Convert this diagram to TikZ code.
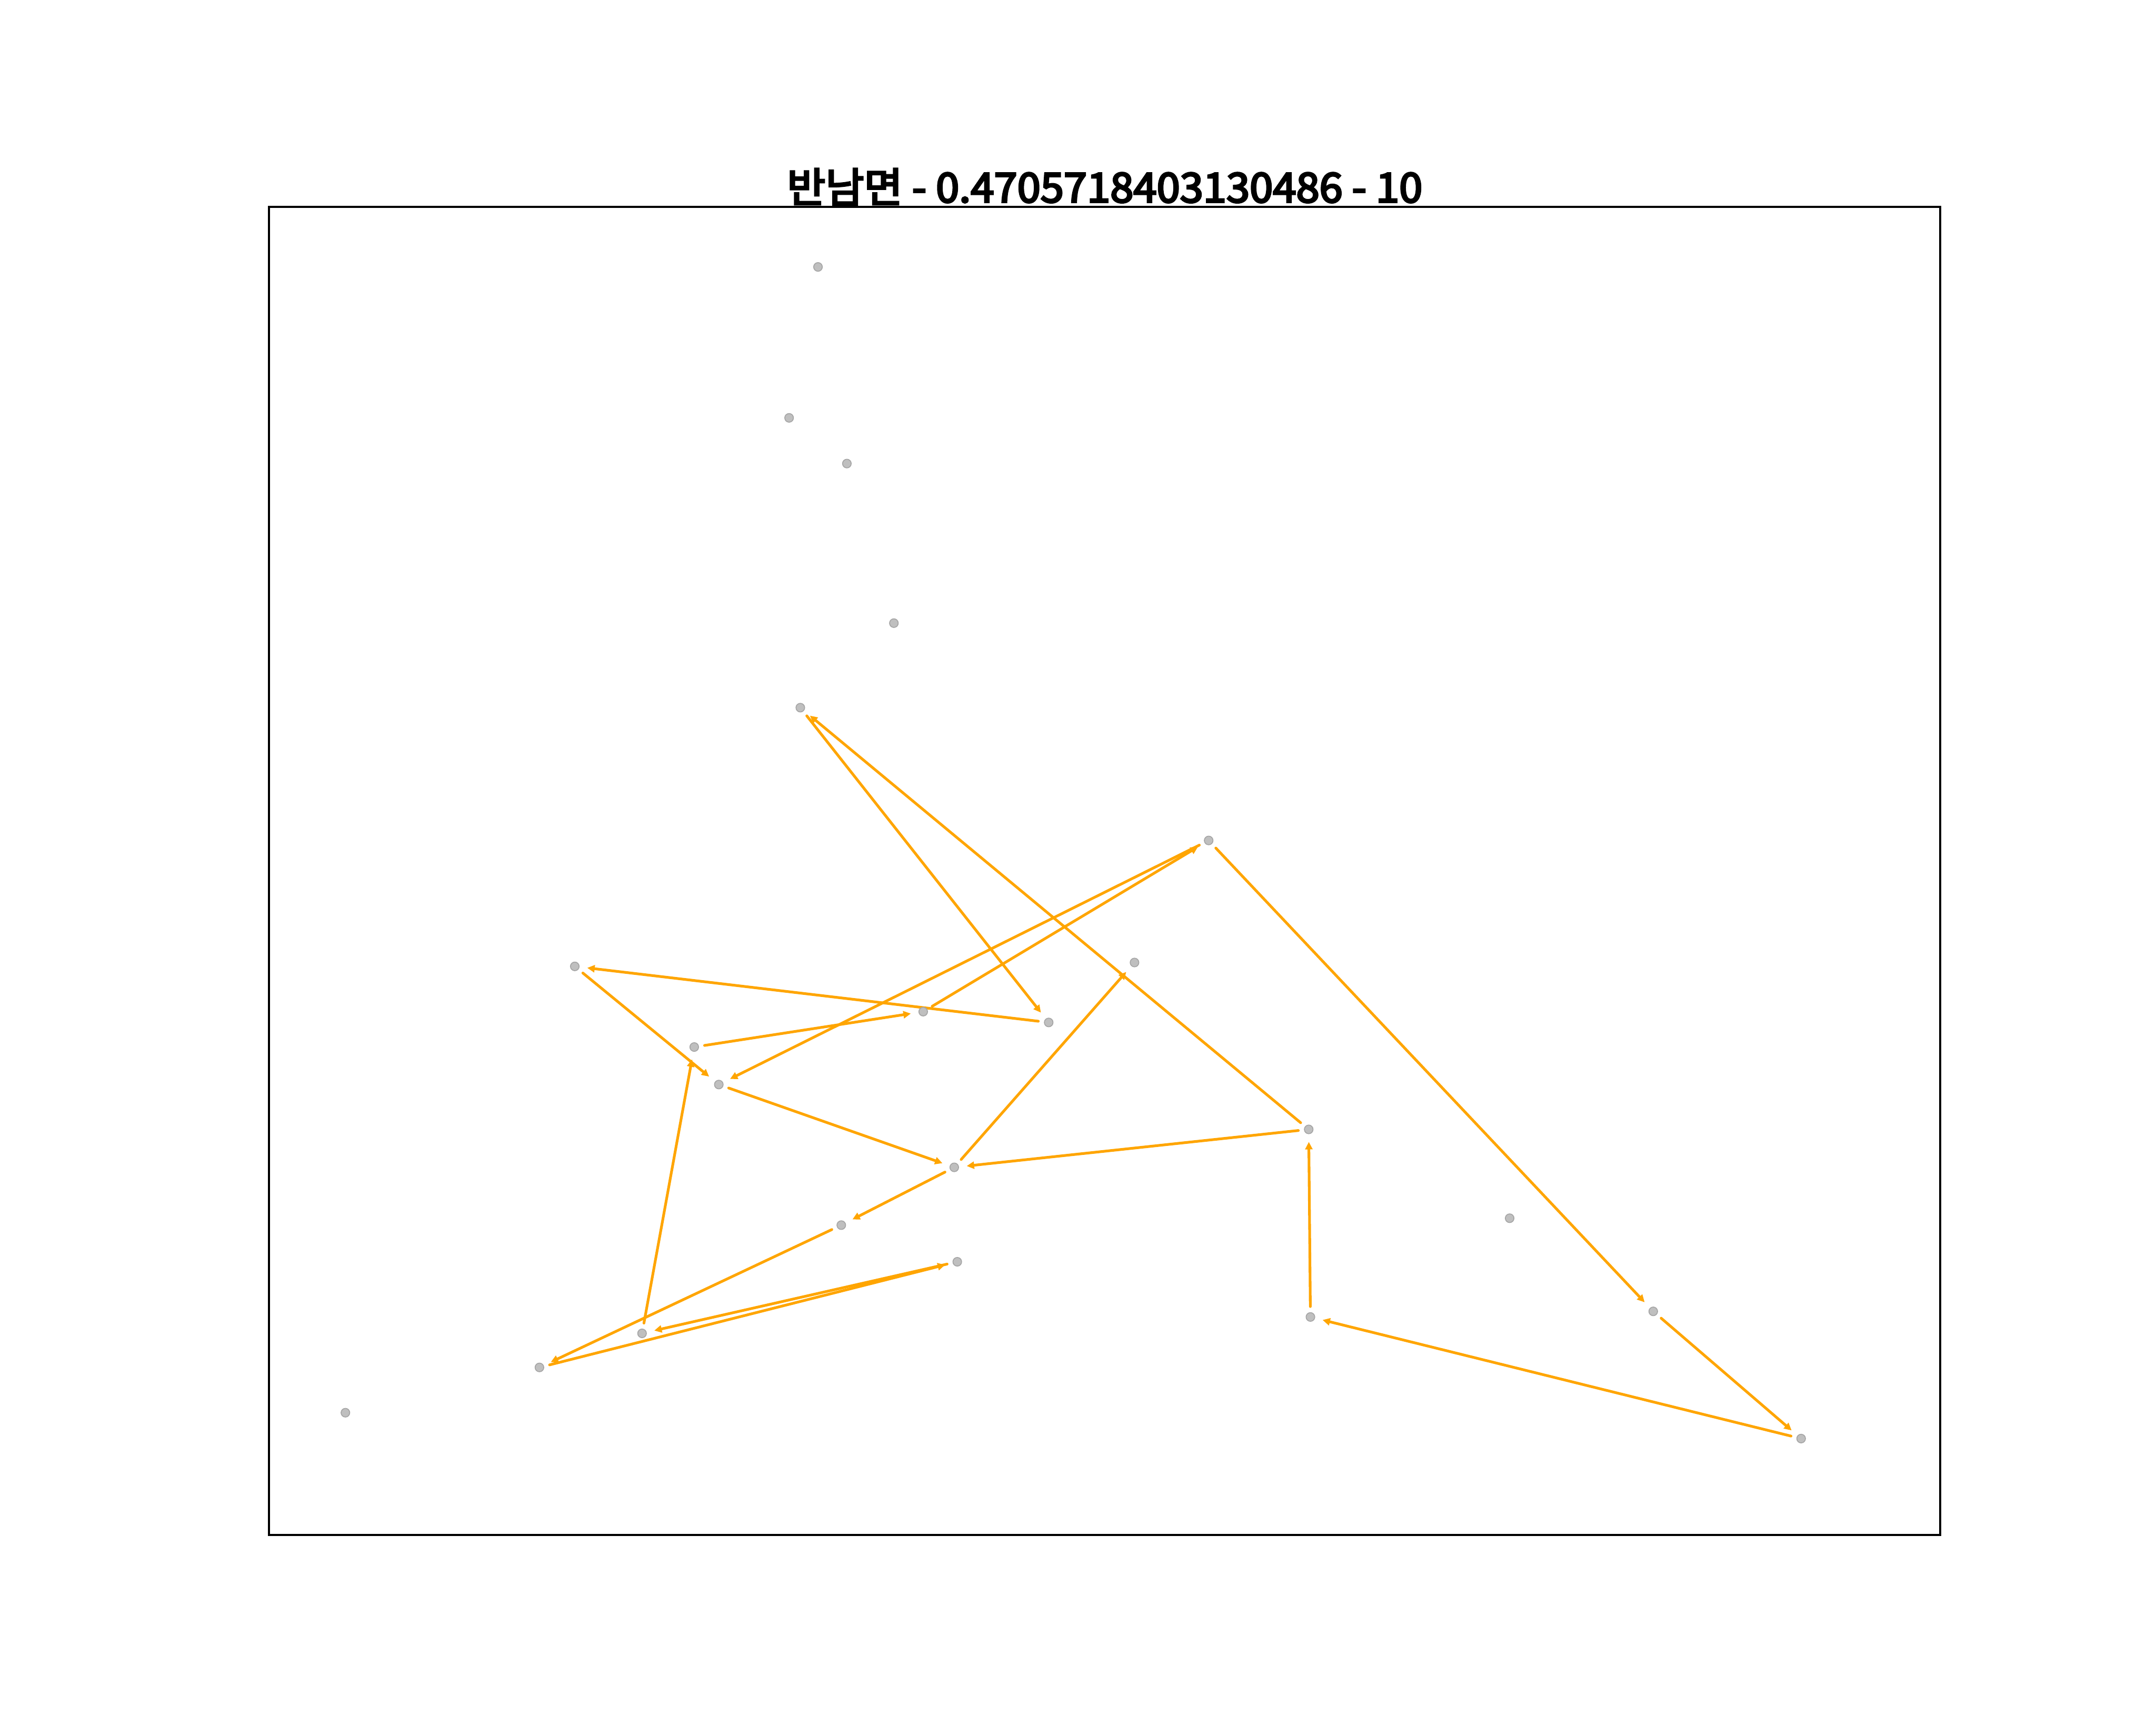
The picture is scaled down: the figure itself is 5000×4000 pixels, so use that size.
\documentclass[tikz,border=0pt]{standalone}
\usepackage{fontspec}
\usepackage{graphicx}
\newfontfamily\kfont{Noto Sans CJK KR}[FakeBold=4.5]
\usetikzlibrary{arrows.meta}
\definecolor{mplorange}{HTML}{FFA500}
\pgfdeclarelayer{edges}
\pgfsetlayers{edges,main}

\begin{document}
\begin{tikzpicture}[
  x=0.00508cm, y=-0.00508cm,
  site/.style={circle, fill=gray!50, draw=black!35, line width=0.3pt,
               inner sep=0pt, minimum size=2.9pt},
  arr/.style={-{Triangle[length=2.5pt, width=2.4pt]}, line width=0.9pt,
              mplorange, line cap=round, shorten <=1.9pt, shorten >=2.6pt},
  frame/.style={draw=black, line width=0.7pt},
  title/.style={anchor=base, inner sep=0pt}
]
\useasboundingbox (0,0) rectangle (5000,4000);
\draw[frame] (624,480) rectangle (4500,3560);
\node[title] (head) at (2562,469)
  {\resizebox{213pt}{11.3pt}{\kfont 반남면 - 0.4705718403130486 - 10}};

% sites
\node[site] (s1) at (1897,619) {};
\node[site] (s2) at (1830,969) {};
\node[site] (s3) at (1964,1075) {};
\node[site] (s4) at (2073,1445) {};
\node[site] (s5) at (1856,1641) {};
\node[site] (s6) at (2803,1949) {};
\node[site] (s7) at (2631,2232) {};
\node[site] (s8) at (1333,2241) {};
\node[site] (s9) at (2141,2346) {};
\node[site] (s10) at (2432,2371) {};
\node[site] (s11) at (1610,2428) {};
\node[site] (s12) at (1667,2515) {};
\node[site] (s13) at (3035,2619) {};
\node[site] (s14) at (2213,2707) {};
\node[site] (s15) at (3501,2825) {};
\node[site] (s16) at (1951,2841) {};
\node[site] (s17) at (2220,2926) {};
\node[site] (s18) at (3834,3041) {};
\node[site] (s19) at (3039,3054) {};
\node[site] (s20) at (1489,3092) {};
\node[site] (s21) at (1251,3171) {};
\node[site] (s22) at (801,3276) {};
\node[site] (s23) at (4177,3336) {};

% moves
\begin{pgfonlayer}{edges}
\draw[arr] (s5) -- (s10);
\draw[arr] (s13) -- (s5);
\draw[arr] (s6) -- (s18);
\draw[arr] (s18) -- (s23);
\draw[arr] (s23) -- (s19);
\draw[arr] (s19) -- (s13);
\draw[arr] (s13) -- (s14);
\draw[arr] (s14) -- (s7);
\draw[arr] (s14) -- (s16);
\draw[arr] (s16) -- (s21);
\draw[arr] (s21) -- (s17);
\draw[arr] (s17) -- (s20);
\draw[arr] (s20) -- (s11);
\draw[arr] (s11) -- (s9);
\draw[arr] (s9) -- (s6);
\draw[arr] (s6) -- (s12);
\draw[arr] (s12) -- (s14);
\draw[arr] (s8) -- (s12);
\draw[arr] (s10) -- (s8);
\end{pgfonlayer}
\end{tikzpicture}
\end{document}
